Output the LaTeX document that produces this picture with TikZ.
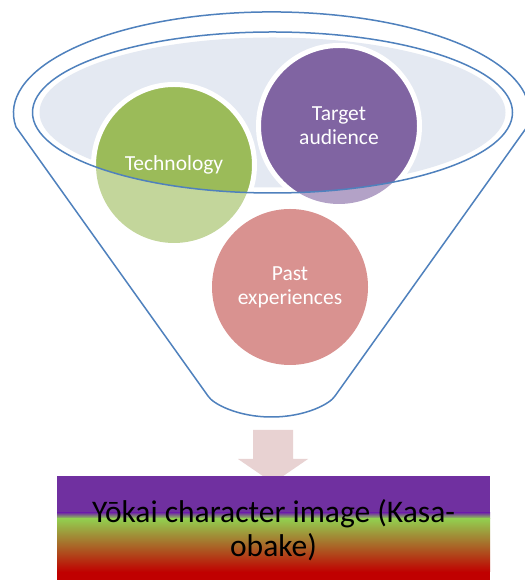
\documentclass[tikz,border=0pt]{standalone}
\usepackage{fontspec}
\setmainfont{Carlito}
\definecolor{fblue}{HTML}{4F81BD}
\definecolor{ellfill}{HTML}{E4E9F2}
\definecolor{cgreen}{HTML}{9BBB59}
\definecolor{cgreenf}{HTML}{C3D69B}
\definecolor{cpurple}{HTML}{8064A2}
\definecolor{cpurplef}{HTML}{B3A2C7}
\definecolor{credf}{HTML}{D99290}
\definecolor{arrowpink}{HTML}{E8D2D2}
\definecolor{kpurple}{HTML}{7030A0}
\definecolor{kgreen}{HTML}{92D050}
\definecolor{kred}{HTML}{C00000}
\tikzset{
  funnelline/.style={draw=fblue, line width=1.5pt, line join=round},
  bubble/.style={circle, minimum size=161pt, inner sep=0pt, draw=white, line width=5pt,
    text=white, font=\fontsize{21.5}{24}\selectfont, align=center},
}
\begin{document}
\begin{tikzpicture}[x=1pt,y=1pt]
\useasboundingbox (0,0) rectangle (524,580);
\fill[white] (0,0) rectangle (524,580);
% faded circle parts (outside inner ellipse)
\fill[cgreenf] (174,415) circle (78);
\fill[cpurplef] (339,454) circle (78);
\node[bubble, draw=none, minimum size=156pt, fill=credf] (past) at (290,293) {Past\\experiences};
% funnel outline
\draw[funnelline] (16,453) arc[start angle=188, end angle=-8, x radius=258, y radius=101]
  -- (335,184) .. controls (330,176) and (305,163) .. (271.5,163)
  .. controls (238,163) and (213,176) .. (208,184) -- cycle;
% inner ellipse fill
\fill[ellfill] (272.5,467.5) ellipse[x radius=233, y radius=75];
% full circles inside inner ellipse
\begin{scope}
  \clip (272.5,467.5) ellipse[x radius=240, y radius=80.5];
  \node[bubble, fill=cgreen] (tech) at (174,415) {Technology};
  \node[bubble, fill=cpurple] (target) at (339,454) {Target\\audience};
\end{scope}
\draw[funnelline] (272.5,467.5) ellipse[x radius=240, y radius=80.5];
% block arrow
\fill[arrowpink] (253,150) -- (293,150) -- (293,121) -- (308,121) -- (273,97) -- (238,121) -- (253,121) -- cycle;
% result box with gradient
\fill[kpurple] (57,67) rectangle (490,104);
\shade[top color=kpurple, bottom color=kgreen] (57,61.5) rectangle (490,67.2);
\shade[top color=kgreen, bottom color=kred] (57,8) rectangle (490,61.7);
\fill[kred] (57,0) rectangle (490,8.2);
\node[inner sep=0pt, align=center, text=black, font=\fontsize{31.5}{34}\selectfont] (result) at (273.5,50) {Yōkai character image (Kasa-\\obake)};
\end{tikzpicture}
\end{document}
